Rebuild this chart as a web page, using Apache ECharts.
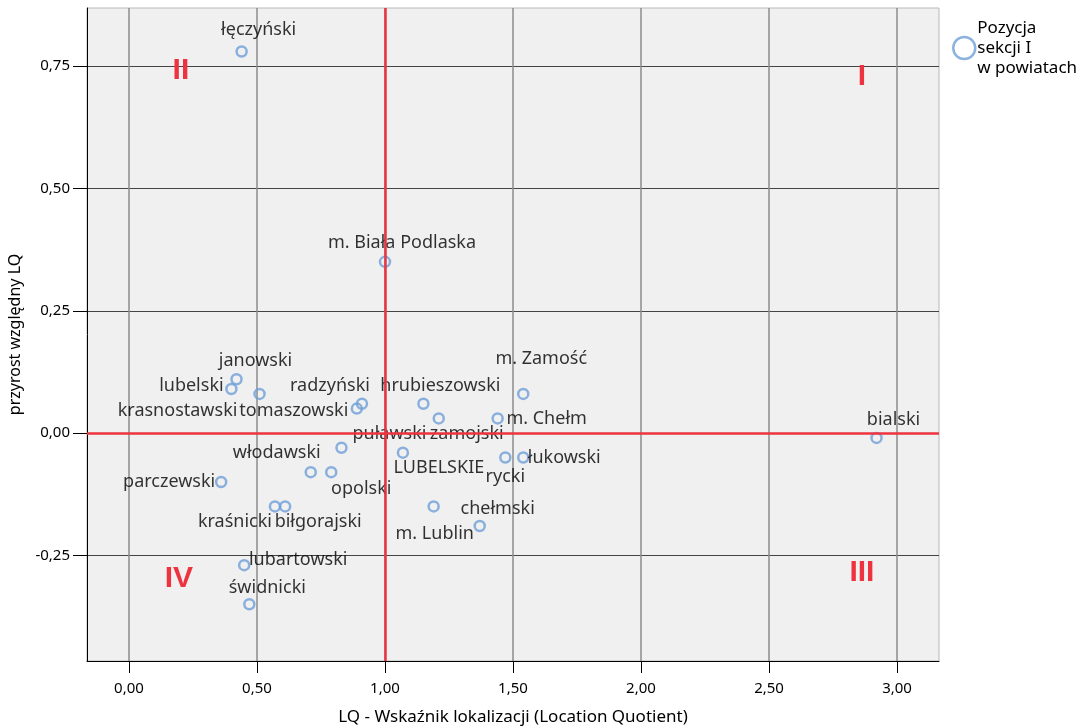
<!DOCTYPE html>
<html>
<head>
<meta charset="utf-8">
<script src="https://cdn.jsdelivr.net/npm/echarts@6/dist/echarts.min.js"></script>
<style>
  html, body { margin: 0; padding: 0; background: #ffffff; }
  #chart { width: 1088px; height: 726px; }
</style>
</head>
<body>
<div id="chart"></div>
<script>
// Powiaty województwa lubelskiego: pozycja sekcji I
const names = [
  'łęczyński', 'm. Biała Podlaska', 'janowski', 'lubelski', 'krasnostawski',
  'tomaszowski', 'radzyński', 'hrubieszowski', 'puławski', 'zamojski',
  'm. Zamość', 'm. Chełm', 'LUBELSKIE', 'rycki', 'łukowski',
  'chełmski', 'm. Lublin', 'bialski', 'włodawski', 'opolski',
  'parczewski', 'kraśnicki', 'biłgorajski', 'lubartowski', 'świdnicki'
];
// LQ - wskaźnik lokalizacji
const lq = [
  0.44, 1.00, 0.42, 0.40, 0.51,
  0.89, 0.91, 1.15, 0.83, 1.21,
  1.54, 1.44, 1.07, 1.47, 1.54,
  1.19, 1.37, 2.92, 0.71, 0.79,
  0.36, 0.57, 0.61, 0.45, 0.47
];
// przyrost względny LQ
const growth = [
  0.78, 0.35, 0.11, 0.09, 0.08,
  0.05, 0.06, 0.06, -0.03, 0.03,
  0.08, 0.03, -0.04, -0.05, -0.05,
  -0.15, -0.19, -0.01, -0.08, -0.08,
  -0.10, -0.15, -0.15, -0.27, -0.35
];
const xTicks = [0, 0.5, 1, 1.5, 2, 2.5, 3];
const yTicks = [-0.25, 0, 0.25, 0.5, 0.75];
const quadrants = ['I', 'II', 'III', 'IV'];
const seriesName = 'Pozycja\nsekcji I\nw powiatach';

// label placement (pixel offset of the label centre from its point)
const labelOffset = {
  'łęczyński': [17, -22], 'm. Biała Podlaska': [17, -19], 'janowski': [19, -18],
  'lubelski': [-40, -3], 'krasnostawski': [-82, 17], 'tomaszowski': [-63, 2],
  'radzyński': [-32, -18], 'hrubieszowski': [17, -18], 'puławski': [48, -14],
  'zamojski': [28, 15], 'm. Zamość': [18, -35], 'm. Chełm': [49, 0],
  'LUBELSKIE': [36, 15], 'rycki': [0, 19], 'łukowski': [41, 0],
  'chełmski': [64, 2], 'm. Lublin': [-45, 8], 'bialski': [17, -18],
  'włodawski': [-34, -19], 'opolski': [30, 17], 'parczewski': [-52, 0],
  'kraśnicki': [-40, 15], 'biłgorajski': [33, 15], 'lubartowski': [54, -5],
  'świdnicki': [18, -16]
};
// quadrant marker positions in data coordinates
const quadrantCoord = {
  'I': [2.863, 0.728], 'II': [0.203, 0.74], 'III': [2.863, -0.286], 'IV': [0.195, -0.297]
};

const FONT = 'Noto Sans';
const MARK = '#6f9fd8';
const RED = '#ee3340';
const fmt = v => v.toFixed(2).replace('.', ',');

const points = names.map((n, i) => ({
  name: n,
  value: [lq[i], growth[i]],
  label: { offset: labelOffset[n] || [0, -16] }
}));

const chart = echarts.init(document.getElementById('chart'), null, { renderer: 'canvas' });
chart.setOption({
  animation: false,
  backgroundColor: '#ffffff',
  textStyle: { fontFamily: FONT },
  grid: {
    left: 87, right: 149, top: 8, bottom: 65,
    outerBoundsMode: 'none', containLabel: false,
    show: true, backgroundColor: '#f0f0f0', borderColor: '#b8b8b8', borderWidth: 1
  },
  legend: {
    left: 947, top: 13, orient: 'vertical',
    itemWidth: 22, itemHeight: 22, itemGap: 0,
    icon: 'circle',
    itemStyle: { color: '#ffffff', borderColor: MARK, borderWidth: 2.5 },
    textStyle: { fontFamily: FONT, fontSize: 17, color: '#000', lineHeight: 20, padding: [0, 0, 0, -3] },
    data: [seriesName]
  },
  xAxis: {
    type: 'value', min: -0.164, max: 3.164,
    name: 'LQ - Wskaźnik lokalizacji (Location Quotient)',
    nameLocation: 'middle', nameGap: 48,
    nameTextStyle: { fontFamily: FONT, fontSize: 17, color: '#000' },
    axisLine: { show: true, onZero: false, lineStyle: { color: '#000', width: 1 } },
    axisTick: { show: true, length: 12, customValues: xTicks, lineStyle: { color: '#000' } },
    axisLabel: { customValues: xTicks, formatter: fmt, margin: 20, fontFamily: FONT, fontSize: 15, color: '#000' },
    splitLine: { show: true, lineStyle: { color: '#8c8c8c', width: 1.5 } }
  },
  yAxis: {
    type: 'value', min: -0.466, max: 0.869,
    name: 'przyrost względny LQ',
    nameLocation: 'middle', nameGap: 64, nameRotate: 90,
    nameTextStyle: { fontFamily: FONT, fontSize: 16, color: '#000' },
    axisLine: { show: true, onZero: false, lineStyle: { color: '#000', width: 1 } },
    axisTick: { show: true, length: 14, customValues: yTicks, lineStyle: { color: '#000' } },
    axisLabel: { customValues: yTicks, formatter: fmt, margin: 17, fontFamily: FONT, fontSize: 15, color: '#000' },
    splitLine: { show: true, lineStyle: { color: '#444444', width: 1 } }
  },
  series: [{
    name: seriesName,
    type: 'scatter',
    symbol: 'circle',
    symbolSize: 10,
    itemStyle: { color: 'rgba(0,0,0,0)', borderColor: MARK, borderWidth: 2.5 },
    label: {
      show: true, position: 'inside', formatter: '{b}',
      fontFamily: FONT, fontSize: 18, color: '#000'
    },
    emphasis: { disabled: true },
    data: points,
    markLine: {
      silent: true, symbol: 'none', animation: false,
      label: { show: false },
      lineStyle: { color: RED, width: 2.5, type: 'solid' },
      data: [{ xAxis: 1 }, { yAxis: 0 }]
    },
    markPoint: {
      silent: true, symbol: 'circle', symbolSize: 1,
      itemStyle: { color: 'rgba(0,0,0,0)' },
      label: {
        show: true, position: 'inside', formatter: '{b}',
        fontFamily: 'Liberation Sans', fontSize: 30, fontWeight: 'bold', color: RED
      },
      data: quadrants.map(q => ({ name: q, coord: quadrantCoord[q] }))
    }
  }]
});
</script>
</body>
</html>
